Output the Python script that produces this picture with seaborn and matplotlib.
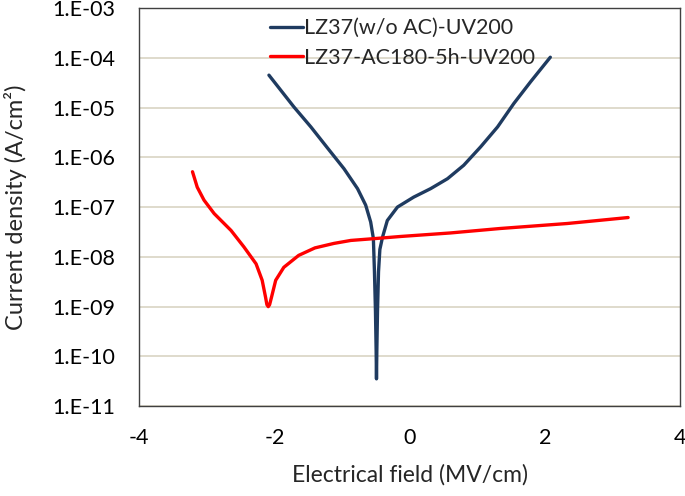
import matplotlib
matplotlib.use("Agg")
import matplotlib.pyplot as plt
import matplotlib.ticker as mticker
import numpy as np
import pandas as pd
import seaborn as sns

# ---------------------------------------------------------------------------
# Data
# field in MV/cm, current density given as log10(A/cm^2)
# ---------------------------------------------------------------------------
blue_label = "LZ37(w/o AC)-UV200"
blue_field = [-2.08, -1.71, -1.46, -1.21, -0.97, -0.77, -0.65, -0.576, -0.536,
              -0.52, -0.505, -0.495, -0.49, -0.485, -0.475, -0.46, -0.44,
              -0.40, -0.33, -0.18, 0.06, 0.31, 0.56, 0.80, 1.05, 1.30, 1.54,
              1.79, 2.08]
blue_log_current = [-4.35, -4.99, -5.39, -5.82, -6.23, -6.63, -6.96, -7.30, -7.63,
                    -8.30, -9.10, -9.90, -10.45, -9.90, -9.10, -8.30, -7.85,
                    -7.60, -7.27, -7.00, -6.80, -6.63, -6.43, -6.16, -5.79,
                    -5.39, -4.92, -4.48, -3.99]

red_label = "LZ37-AC180-5h-UV200"
red_field = [-3.21, -3.14, -3.04, -2.89, -2.64, -2.45, -2.27, -2.18, -2.13,
             -2.11, -2.09, -2.07, -2.04, -1.98, -1.86, -1.64, -1.40, -1.12,
             -0.87, -0.49, -0.13, 0.60, 1.34, 2.33, 3.23]
red_log_current = [-6.29, -6.60, -6.86, -7.13, -7.47, -7.80, -8.14, -8.47, -8.81,
                   -8.96, -9.00, -8.96, -8.80, -8.47, -8.21, -7.97, -7.82, -7.73,
                   -7.67, -7.63, -7.59, -7.52, -7.43, -7.33, -7.21]

x_ticks = [-4, -2, 0, 2, 4]
y_ticks = [1e-11, 1e-10, 1e-9, 1e-8, 1e-7, 1e-6, 1e-5, 1e-4, 1e-3]

df = pd.concat([
    pd.DataFrame({"field": blue_field,
                  "current": np.power(10.0, blue_log_current),
                  "series": blue_label}),
    pd.DataFrame({"field": red_field,
                  "current": np.power(10.0, red_log_current),
                  "series": red_label}),
], ignore_index=True)

# ---------------------------------------------------------------------------
# Plot
# ---------------------------------------------------------------------------
sns.set_theme(style="white")
plt.rcParams["font.family"] = ["Lato", "DejaVu Sans"]
plt.rcParams["axes.unicode_minus"] = False
plt.rcParams["lines.solid_capstyle"] = "round"
plt.rcParams["lines.solid_joinstyle"] = "round"

fig = plt.figure(figsize=(6.85, 4.96), dpi=100)
ax = fig.add_axes([0.203, 0.181, 0.790, 0.803])

sns.lineplot(
    data=df, x="field", y="current", hue="series",
    palette={blue_label: "#1f3b60", red_label: "#ff0000"},
    sort=False, estimator=None, linewidth=2.4, ax=ax,
)

ax.set_yscale("log")
ax.set_xlim(-4, 4)
ax.set_ylim(1e-11, 1e-3)
ax.set_xticks(x_ticks)
ax.xaxis.set_minor_locator(mticker.MultipleLocator(0.4))
ax.set_yticks(y_ticks)
ax.yaxis.set_major_formatter(
    mticker.FuncFormatter(lambda v, _: f"1.E{int(round(np.log10(v))):03d}")
)
ax.yaxis.set_minor_locator(mticker.LogLocator(base=10, subs=np.arange(2, 10)))
ax.yaxis.set_minor_formatter(mticker.NullFormatter())

ax.tick_params(axis="both", which="both", direction="in", labelsize=15.5,
               colors="#404040", labelcolor="black", top=False, right=False)
ax.tick_params(which="major", length=5, width=0.9)
ax.tick_params(which="minor", length=4, width=0.8)
ax.tick_params(axis="x", which="major", pad=16)
ax.tick_params(axis="y", which="major", pad=17)

ax.grid(axis="y", which="major", color="#d9d4c4", linewidth=1.2)
ax.grid(axis="x", visible=False)
for side in ax.spines.values():
    side.set_color("#404040")
    side.set_linewidth(1.0)

ax.set_xlabel("Electrical field (MV/cm)", fontsize=16.5, labelpad=11)
ax.set_ylabel("Current density (A/cm²)", fontsize=17, labelpad=18)

ax.legend(loc="upper left", bbox_to_anchor=(0.215, 1.012), frameon=False,
          fontsize=15.5, handlelength=1.5, handletextpad=0.05,
          labelspacing=0.45, borderaxespad=0.3)

fig.savefig("out.png", dpi=100)
